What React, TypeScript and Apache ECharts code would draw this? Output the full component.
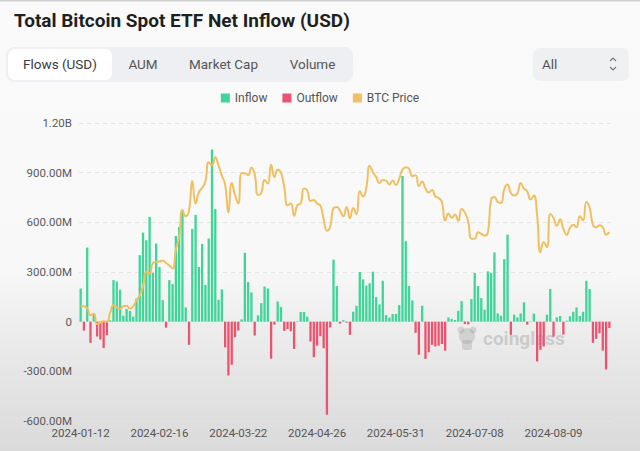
import React, { useEffect, useRef } from "react";
import * as echarts from "echarts";

const categories = [
  "2024-01-12","2024-01-16","2024-01-17","2024-01-18","2024-01-19","2024-01-22","2024-01-23","2024-01-24","2024-01-25","2024-01-26","2024-01-29","2024-01-30","2024-01-31",
  "2024-02-01","2024-02-02","2024-02-05","2024-02-06","2024-02-07","2024-02-08","2024-02-09","2024-02-12","2024-02-13","2024-02-14","2024-02-15","2024-02-16","2024-02-20","2024-02-21","2024-02-22","2024-02-23","2024-02-26","2024-02-27","2024-02-28","2024-02-29",
  "2024-03-01","2024-03-04","2024-03-05","2024-03-06","2024-03-07","2024-03-08","2024-03-11","2024-03-12","2024-03-13","2024-03-14","2024-03-15","2024-03-18","2024-03-19","2024-03-20","2024-03-21","2024-03-22","2024-03-25","2024-03-26","2024-03-27","2024-03-28",
  "2024-04-01","2024-04-02","2024-04-03","2024-04-04","2024-04-05","2024-04-08","2024-04-09","2024-04-10","2024-04-11","2024-04-12","2024-04-15","2024-04-16","2024-04-17","2024-04-18","2024-04-19","2024-04-22","2024-04-23","2024-04-24","2024-04-25","2024-04-26","2024-04-29","2024-04-30",
  "2024-05-01","2024-05-02","2024-05-03","2024-05-06","2024-05-07","2024-05-08","2024-05-09","2024-05-10","2024-05-13","2024-05-14","2024-05-15","2024-05-16","2024-05-17","2024-05-20","2024-05-21","2024-05-22","2024-05-23","2024-05-24","2024-05-28","2024-05-29","2024-05-30","2024-05-31",
  "2024-06-03","2024-06-04","2024-06-05","2024-06-06","2024-06-07","2024-06-10","2024-06-11","2024-06-12","2024-06-13","2024-06-14","2024-06-17","2024-06-18","2024-06-20","2024-06-21","2024-06-24","2024-06-25","2024-06-26","2024-06-27","2024-06-28",
  "2024-07-01","2024-07-02","2024-07-03","2024-07-05","2024-07-08","2024-07-09","2024-07-10","2024-07-11","2024-07-12","2024-07-15","2024-07-16","2024-07-17","2024-07-18","2024-07-19","2024-07-22","2024-07-23","2024-07-24","2024-07-25","2024-07-26","2024-07-29","2024-07-30","2024-07-31",
  "2024-08-01","2024-08-02","2024-08-05","2024-08-06","2024-08-07","2024-08-08","2024-08-09","2024-08-12","2024-08-13","2024-08-14","2024-08-15","2024-08-16","2024-08-19","2024-08-20","2024-08-21","2024-08-22","2024-08-23","2024-08-26","2024-08-27","2024-08-28","2024-08-29","2024-08-30",
  "2024-09-03","2024-09-04"
];

// Net flow per day, in millions of USD
const netFlowM = [
  200, -54, 448, -128, 50, -90, -108, -159, -82, 8, 251, 243, 193,
  36, 76, 64, 30, 140, 402, 538, 492, 633, 295, 472, 330, 130, -36, 251, 227, 518, 572, 675, 86,
  -140, 560, 645, 330, 470, 222, 502, 1040, 680, 132, 195, -155, -325, -261, -94, -54, 14, 416, 240, 177,
  -84, 38, 112, 212, 200, -224, -18, 122, 88, -56, -45, -58, -165, 3, 58, 58, 30, -120, -215, -145, -88, -161,
  -562, -35, 375, 215, -12, 9, -6, -80, 60, 96, 300, 255, 218, 232, 302, 148, 104, 247, 40, 25, 46, 46,
  100, 880, 486, 215, 128, -68, -200, 96, -225, -185, -140, -150, -145, -135, -175, 26, 16, 10, 66,
  124, -14, -16, 137, 294, 215, 142, 72, 304, 294, 418, 50, 36, 378, 526, -80, 42, 26, 50, 117, -18, 2,
  48, -240, -170, -150, 42, 197, -90, 26, 34, -78, 6, 32, 60, 86, 34, 60, 247, 197, -128, -104, -70, -175,
  -289, -38
];

// BTC price (USD)
const btcPrice = [
  43100, 43100, 42700, 41300, 41600, 39500, 39800, 40100, 40000, 41800, 43300, 42900, 42600,
  43100, 43200, 42600, 43100, 44300, 45300, 47100, 50000, 49700, 51800, 52000, 52100, 52300, 51800, 51300, 50700, 54500, 57100, 62500, 61200,
  62400, 68300, 63800, 66100, 66900, 68300, 72100, 71500, 73100, 71400, 69400, 67600, 62000, 67900, 65500, 63800, 69900, 69900, 69500, 71000,
  69700, 65500, 65900, 68500, 67800, 71600, 69100, 70600, 70000, 67100, 63400, 63800, 61300, 63500, 63800, 66800, 66400, 64300, 64500, 63800, 63400, 60600,
  58300, 59100, 62900, 63100, 62300, 61200, 63100, 60800, 62900, 61600, 66300, 65200, 67000, 71400, 70100, 69100, 67900, 68500, 68400, 67600, 68400, 67500,
  68800, 70600, 71100, 70800, 69300, 69500, 67300, 68200, 66800, 66000, 66500, 65200, 64900, 64100, 60300, 61800, 60900, 61600, 60300,
  62700, 62000, 60200, 56700, 56700, 58000, 57700, 57300, 57900, 64600, 65100, 64100, 63900, 66700, 67600, 65900, 65400, 65800, 67900, 66800, 66200, 64600,
  65400, 61400, 54000, 56000, 55000, 61700, 60900, 59300, 60600, 58700, 57500, 58900, 59500, 59000, 61200, 60400, 64100, 62900, 59500, 59000, 59400, 59000,
  57500, 58000
];

const tabLabels = ["Flows (USD)", "AUM", "Market Cap", "Volume"];
const tabCenters = [60, 143, 223.5, 312.5];

const GREEN = "#3fd499";
const RED = "#eb5470";
const GOLD = "#eec062";
const FONT = "Roboto, 'Noto Sans', sans-serif";

function fmtFlow(v: number): string {
  if (v === 0) return "0";
  if (Math.abs(v) >= 1000) return (v / 1000).toFixed(2) + "B";
  return v.toFixed(2) + "M";
}

export default function App() {
  const ref = useRef<HTMLDivElement>(null);
  useEffect(() => {
    if (!ref.current) return;
    const chart = echarts.init(ref.current, undefined, { renderer: "svg" });

    const tabTexts = tabLabels.map((t, i) => ({
      type: "text",
      x: tabCenters[i],
      y: 64,
      style: {
        text: t,
        fill: i === 0 ? "#3a3a3a" : "#555",
        font: `13.5px ${FONT}`,
        textAlign: "center",
        textVerticalAlign: "middle",
      },
    }));

    chart.setOption({
      animation: false,
      backgroundColor: "transparent",
      textStyle: { fontFamily: FONT },
      grid: { left: 79, right: 29, top: 123, bottom: 30, containLabel: false },
      legend: {
        data: ["Inflow", "Outflow", "BTC Price"],
        top: 87,
        left: "center",
        icon: "rect",
        itemWidth: 9,
        itemHeight: 9,
        itemGap: 15,
        textStyle: { color: "#555", fontSize: 12, fontFamily: FONT },
      },
      xAxis: {
        type: "category",
        data: categories,
        axisLine: { show: false },
        axisTick: { show: false },
        axisLabel: { interval: 23, color: "#555", fontSize: 11.5, margin: 6, fontFamily: FONT },
        splitLine: { show: false },
      },
      yAxis: [
        {
          type: "value",
          min: -600,
          max: 1200,
          interval: 300,
          axisLine: { show: false },
          axisTick: { show: false },
          axisLabel: { color: "#5a5a5a", fontSize: 11.5, margin: 7, formatter: fmtFlow, fontFamily: FONT },
          splitLine: { lineStyle: { color: "#e4e4e4", type: [4, 4], width: 1 } },
        },
        {
          type: "value",
          min: 20000,
          max: 80000,
          show: false,
          splitLine: { show: false },
        },
      ],
      series: [
        {
          name: "Inflow",
          type: "bar",
          stack: "flow",
          barWidth: "70%",
          itemStyle: { color: GREEN },
          data: netFlowM.map((v) => (v > 0 ? v : "-")),
        },
        {
          name: "Outflow",
          type: "bar",
          stack: "flow",
          barWidth: "70%",
          itemStyle: { color: RED },
          data: netFlowM.map((v) => (v < 0 ? v : "-")),
        },
        {
          name: "BTC Price",
          type: "line",
          yAxisIndex: 1,
          smooth: 0.5,
          showSymbol: false,
          symbol: "none",
          itemStyle: { color: GOLD },
          lineStyle: { color: GOLD, width: 2 },
          data: btcPrice,
          z: 5,
        },
      ],
      graphic: [
        { type: "rect", shape: { x: 0, y: 0, width: 640, height: 1.5 }, style: { fill: "#cfcfcf" }, silent: true },
        {
          type: "text",
          x: 14,
          y: 20,
          style: {
            text: "Total Bitcoin Spot ETF Net Inflow (USD)",
            fill: "#1f1f1f",
            font: `bold 19px ${FONT}`,
            textVerticalAlign: "middle",
          },
        },
        { type: "rect", shape: { x: 6, y: 47, width: 347, height: 35, r: 8 }, style: { fill: "#eeeff2" } },
        { type: "rect", shape: { x: 8, y: 49, width: 104, height: 31, r: 7 }, style: { fill: "#ffffff" } },
        ...tabTexts,
        { type: "rect", shape: { x: 533, y: 48, width: 96, height: 33, r: 7 }, style: { fill: "#eff0f2" } },
        {
          type: "text",
          x: 542,
          y: 64,
          style: { text: "All", fill: "#555", font: `13.5px ${FONT}`, textVerticalAlign: "middle" },
        },
        { type: "polyline", shape: { points: [[610, 61], [613, 58], [616, 61]] }, style: { stroke: "#777", lineWidth: 1.2, fill: null } },
        { type: "polyline", shape: { points: [[610, 67], [613, 70], [616, 67]] }, style: { stroke: "#777", lineWidth: 1.2, fill: null } },
        // watermark
        { type: "circle", shape: { cx: 467, cy: 336, r: 8 }, style: { fill: "rgba(150,150,150,0.3)" }, silent: true },
        { type: "circle", shape: { cx: 461, cy: 330, r: 3.5 }, style: { fill: "rgba(150,150,150,0.3)" }, silent: true },
        { type: "circle", shape: { cx: 473, cy: 330, r: 3.5 }, style: { fill: "rgba(150,150,150,0.3)" }, silent: true },
        { type: "rect", shape: { x: 462, y: 340, width: 10, height: 10, r: 2 }, style: { fill: "rgba(150,150,150,0.3)" }, silent: true },
        {
          type: "text",
          x: 483,
          y: 338,
          silent: true,
          style: {
            text: "coinglass",
            fill: "rgba(150,150,150,0.4)",
            font: `bold 19px ${FONT}`,
            textVerticalAlign: "middle",
          },
        },
      ],
    });
    return () => chart.dispose();
  }, []);

  return (
    <div
      style={{
        position: "fixed",
        left: 0,
        top: 0,
        width: 640,
        height: 451,
        background:
          "linear-gradient(to bottom, #fafafa 0%, #f8f8f8 60%, #efefef 70%, #e4e4e4 85%, #dadada 100%)",
      }}
    >
      <div ref={ref} style={{ width: 640, height: 451 }} />
    </div>
  );
}
